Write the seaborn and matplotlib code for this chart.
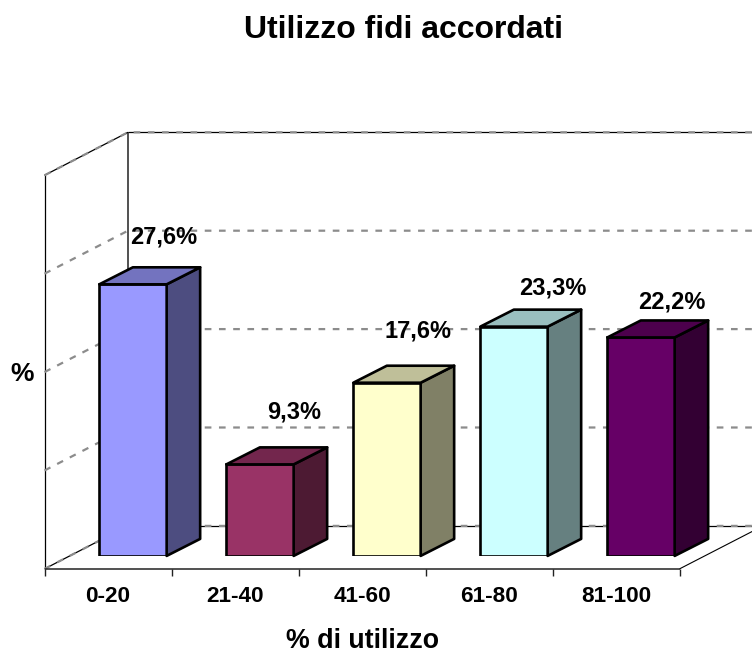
import matplotlib
matplotlib.use("Agg")
import matplotlib.pyplot as plt
import seaborn as sns
import pandas as pd
from matplotlib.colors import to_rgb
from matplotlib.patches import Polygon

categories = ["0-20", "21-40", "41-60", "61-80", "81-100"]
values = [27.6, 9.3, 17.6, 23.3, 22.2]
value_labels = ["27,6%", "9,3%", "17,6%", "23,3%", "22,2%"]
colors = ["#9999FF", "#993366", "#FFFFCC", "#CCFFFF", "#660066"]
grid_levels = [0, 10, 20, 30, 40]
title = "Utilizzo fidi accordati"
xlabel = "% di utilizzo"
ylabel = "%"

W, H = 752, 653
sns.set_style("white")
plt.rcParams["font.family"] = ["Liberation Sans", "DejaVu Sans"]

fig = plt.figure(figsize=(W / 100, H / 100), dpi=100, facecolor="white")
# the axes span the plane of the bar fronts
left, right, base, ppu = 69.5, 704.5, 555.9, 9.84
top = base - 40 * ppu
ax = fig.add_axes([left / W, 1 - base / H, (right - left) / W, (base - top) / H])
df = pd.DataFrame({"cat": categories, "val": values})
sns.barplot(data=df, x="cat", y="val", hue="cat", palette=colors, saturation=1,
            width=0.53, edgecolor="black", linewidth=1.9, legend=False, zorder=5, ax=ax)
ax.set_xlim(-0.5, 4.5)
ax.set_ylim(0, 40)
ax.axis("off")

ux, uy = 127.0, ppu
def px(dx, dy):
    """pixel depth offset to data units"""
    return dx / ux, -dy / uy

# bar depth faces, derived from the drawn bars
bdx, bdy = px(33.5, -17)
for patch, c in zip(ax.patches, colors):
    x0, y0 = patch.get_x(), patch.get_y()
    w, h = patch.get_width(), patch.get_height()
    rgb = to_rgb(c)
    side = tuple(v * 0.5 for v in rgb)
    topc = tuple(v * 0.75 for v in rgb)
    ax.add_patch(Polygon([(x0 + w, y0), (x0 + w + bdx, y0 + bdy), (x0 + w + bdx, y0 + h + bdy), (x0 + w, y0 + h)],
                         closed=True, fc=side, ec="black", lw=1.9, zorder=5, clip_on=False, joinstyle="round"))
    ax.add_patch(Polygon([(x0, y0 + h), (x0 + bdx, y0 + h + bdy), (x0 + w + bdx, y0 + h + bdy), (x0 + w, y0 + h)],
                         closed=True, fc=topc, ec="black", lw=1.9, zorder=5, clip_on=False, joinstyle="round"))

# frame: front-left corner and back-left corner relative to the bar plane
fx0 = -0.5 + px(-25, 0)[0]
fy_off = px(0, 13)[1]
wall_dx, wall_dy = px(83.5, -43)
fx1 = fx0 + 5
nogap = dict(clip_on=False, solid_capstyle="butt")
dash = dict(color="#8c8c8c", lw=1.6, ls=(0, (3, 3.4)), clip_on=False, zorder=2)

# floor and walls in black
yb = fy_off
ax.plot([fx0, fx1], [yb, yb], color="#222222", lw=1.1, zorder=3, **nogap)
ax.plot([fx0, fx0 + wall_dx], [yb, yb + wall_dy], color="black", lw=0.9, zorder=1, **nogap)
ax.plot([fx1, fx1 + wall_dx], [yb, yb + wall_dy], color="black", lw=0.8, zorder=1, **nogap)
ax.plot([fx0 + wall_dx, fx1 + wall_dx], [yb + wall_dy] * 2, color="black", lw=0.9, zorder=1, **nogap)
ax.plot([fx0, fx0], [yb, yb + 40], color="black", lw=0.9, zorder=1, **nogap)
ax.plot([fx0 + wall_dx] * 2, [yb + wall_dy, yb + wall_dy + 40], color="#222222", lw=1.1, zorder=1, **nogap)
ax.plot([fx0, fx0 + wall_dx], [yb + 40, yb + 40 + wall_dy], color="black", lw=0.9, zorder=1, **nogap)
ax.plot([fx0 + wall_dx, fx1 + wall_dx], [yb + wall_dy + 40] * 2, color="black", lw=0.9, zorder=1, **nogap)

# dashed grid on both walls
for lev in grid_levels:
    ax.plot([fx0, fx0 + wall_dx, fx1 + wall_dx],
            [yb + lev, yb + lev + wall_dy, yb + lev + wall_dy], **dash)

# axis ticks and category labels on the front edge
tick_dy = px(0, 7.5)[1]
label_dy = px(0, 27.5)[1]
for i in range(len(categories) + 1):
    ax.plot([fx0 + i] * 2, [yb, yb + tick_dy], color="#222222", lw=1.0, zorder=3, **nogap)
for i, cat in enumerate(categories):
    ax.text(fx0 + i + 0.5, yb + label_dy, cat, ha="center", va="center",
            fontsize=16.2, fontweight="bold", color="black", clip_on=False)

# value labels, placed clear of the bars with per-label pixel shifts
label_shift = [(31, 47), (34, 52), (31, 52), (39, 39), (31, 35)]
for i, (v, t, (sx, sy)) in enumerate(zip(values, value_labels, label_shift)):
    ax.text(i + sx / ux, v + sy / uy, t, ha="center", va="center", fontsize=17,
            fontweight="bold", color="black", zorder=7, clip_on=False)

fig.text(404 / W, 1 - 29.5 / H, title, ha="center", va="center", fontsize=23, fontweight="bold", color="black")
fig.text(362 / W, 1 - 641 / H, xlabel, ha="center", va="center", fontsize=19.3, fontweight="bold", color="black")
fig.text(22.5 / W, 1 - 374 / H, ylabel, ha="center", va="center", fontsize=19, fontweight="bold", color="black")

fig.savefig("out.png", dpi=100, facecolor="white")
